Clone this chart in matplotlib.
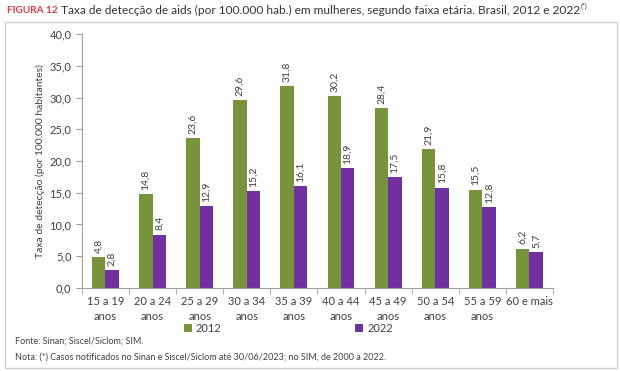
import numpy as np
import matplotlib.pyplot as plt
from matplotlib.patches import Rectangle

plt.rcParams['font.family'] = ['Lato', 'DejaVu Sans']

# Data
faixas = ['15 a 19\nanos', '20 a 24\nanos', '25 a 29\nanos', '30 a 34\nanos', '35 a 39\nanos',
          '40 a 44\nanos', '45 a 49\nanos', '50 a 54\nanos', '55 a 59\nanos', '60 e mais']
taxa_2012 = [4.8, 14.8, 23.6, 29.6, 31.8, 30.2, 28.4, 21.9, 15.5, 6.2]
taxa_2022 = [2.8, 8.4, 12.9, 15.2, 16.1, 18.9, 17.5, 15.8, 12.8, 5.7]

GREEN = '#77933C'
PURPLE = '#7030A0'
TEXT = '#404040'

fig = plt.figure(figsize=(6.2, 3.71), dpi=100)
ax = fig.add_axes([0.132, 0.224, 0.760, 0.684])

# box around the chart
fig.patches.append(Rectangle((0.008, 0.008), 0.987, 0.933, transform=fig.transFigure,
                             fill=False, edgecolor='#d0d0d0', linewidth=1))

x = np.arange(len(faixas))
w = 0.285
b1 = ax.bar(x - w / 2, taxa_2012, w, color=GREEN, label='2012')
b2 = ax.bar(x + w / 2, taxa_2022, w, color=PURPLE, label='2022')

for bars in (b1, b2):
    for rect in bars:
        h = rect.get_height()
        ax.annotate(f'{h:.1f}'.replace('.', ','), (rect.get_x() + rect.get_width() / 2, h),
                    xytext=(0, 3), textcoords='offset points', rotation=90,
                    ha='center', va='bottom', fontsize=7.5, color=TEXT)

ax.set_xlim(-0.5, len(faixas) - 0.5)
ax.set_ylim(0, 40)
ax.set_yticks(np.arange(0, 41, 5))
ax.set_yticklabels([f'{v:.1f}'.replace('.', ',') for v in np.arange(0, 41, 5)])
ax.set_xticks(x)
ax.set_xticklabels(faixas, linespacing=1.4)
ax.set_xticks(np.arange(-0.5, len(faixas), 1), minor=True)
ax.tick_params(axis='x', which='major', length=0, pad=6, labelsize=8, colors=TEXT)
ax.tick_params(axis='x', which='minor', length=4, color='#a0a0a0')
ax.tick_params(axis='y', length=4, color='#a0a0a0', labelsize=8, labelcolor=TEXT)
for s in ('top', 'right'):
    ax.spines[s].set_visible(False)
for s in ('left', 'bottom'):
    ax.spines[s].set_color('#a0a0a0')

ax.set_ylabel('Taxa de detecção (por 100.000 habitantes)', fontsize=7.5, color=TEXT, labelpad=3)

fig.legend(handles=[b1, b2], loc='center', bbox_to_anchor=(0.465, 0.115), ncol=2,
           frameon=False, fontsize=8, handlelength=0.7, handleheight=0.7,
           columnspacing=12, handletextpad=0.4, labelcolor=TEXT)

# title
t1 = fig.text(0.011, 0.972, 'FIGURA 12', fontsize=7.2, fontweight='bold', color='#E0383E', va='center')
fig.canvas.draw()
r = fig.canvas.get_renderer()
bb = t1.get_window_extent(r)
x2 = (bb.x1 + 4) / fig.bbox.width
t2 = fig.text(x2, 0.972, 'Taxa de detecção de aids (por 100.000 hab.) em mulheres, segundo faixa etária. Brasil, 2012 e 2022',
              fontsize=8.6, color='#333333', va='center')
bb2 = t2.get_window_extent(r)
fig.text((bb2.x1 + 0.5) / fig.bbox.width, 0.982, '(*)', fontsize=5, color='#333333', va='center')

fig.text(0.024, 0.081, 'Fonte: Sinan; Siscel/Siclom; SIM.', fontsize=6.5, color=TEXT, va='center')
fig.text(0.024, 0.038, 'Nota: (*) Casos notificados no Sinan e Siscel/Siclom até 30/06/2023; no SIM, de 2000 a 2022.',
         fontsize=6.5, color=TEXT, va='center')

fig.savefig('out.png', dpi=100)
